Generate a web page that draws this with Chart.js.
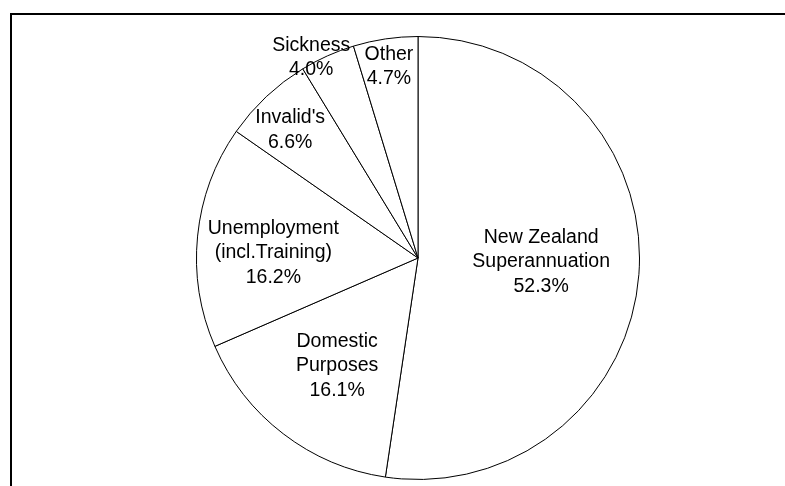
<!DOCTYPE html>
<html>

<head>
    <meta charset="UTF-8">
    <title>Benefit categories</title>
    <style>
        body { margin: 0; background: #fff; overflow: hidden; }
        #wrap { position: relative; width: 785px; height: 486px; }
        #frame {
            position: absolute; left: 10px; top: 13px; width: 900px; height: 600px;
            border-left: 2px solid #000; border-top: 2px solid #000;
        }
        #chart { position: absolute; left: 0; top: 0; }
    </style>
</head>

<body>
    <div id="wrap">
        <div id="frame"></div>
        <canvas id="chart" width="785" height="486"></canvas>
    </div>
    <script src="https://cdn.jsdelivr.net/npm/chart.js"></script>
    <script>
        // data, clockwise from 12 o'clock
        const categories = [
            ["New Zealand", "Superannuation"],
            ["Domestic", "Purposes"],
            ["Unemployment", "(incl.Training)"],
            ["Invalid's"],
            ["Sickness"],
            ["Other"]
        ];
        const shares = [52.3, 16.1, 16.2, 6.6, 4.0, 4.7];

        // where each label sits, as an offset from the pie centre in radius units
        const labelOffsets = [
            [0.556, 0.018],
            [-0.365, 0.486],
            [-0.653, -0.023],
            [-0.577, -0.577],
            [-0.482, -0.905],
            [-0.131, -0.865]
        ];

        const sliceLabels = {
            id: 'sliceLabels',
            afterDatasetsDraw(chart) {
                const ctx = chart.ctx;
                const meta = chart.getDatasetMeta(0);
                ctx.save();
                ctx.font = '19.5px "Liberation Sans", Arial, sans-serif';
                ctx.fillStyle = '#000';
                ctx.textAlign = 'center';
                ctx.textBaseline = 'middle';
                meta.data.forEach((arc, i) => {
                    const r = arc.outerRadius;
                    const lines = categories[i].concat([shares[i].toFixed(1) + '%']);
                    const cx = arc.x + labelOffsets[i][0] * r;
                    const cy = arc.y + labelOffsets[i][1] * r;
                    const lh = 24.5;
                    const top = cy - (lines.length - 1) * lh / 2;
                    lines.forEach((t, k) => ctx.fillText(t, cx, top + k * lh));
                });
                ctx.restore();
            }
        };

        new Chart(document.getElementById('chart').getContext('2d'), {
            type: 'pie',
            data: {
                labels: categories.map(c => c.join(' ')),
                datasets: [{
                    data: shares,
                    backgroundColor: '#ffffff',
                    borderColor: '#000000',
                    borderWidth: 1
                }]
            },
            options: {
                responsive: false,
                animation: false,
                layout: { padding: { top: 36, left: 196, right: 145, bottom: 6 } },
                plugins: {
                    legend: { display: false },
                    tooltip: { enabled: false }
                }
            },
            plugins: [sliceLabels]
        });
    </script>
</body>

</html>
